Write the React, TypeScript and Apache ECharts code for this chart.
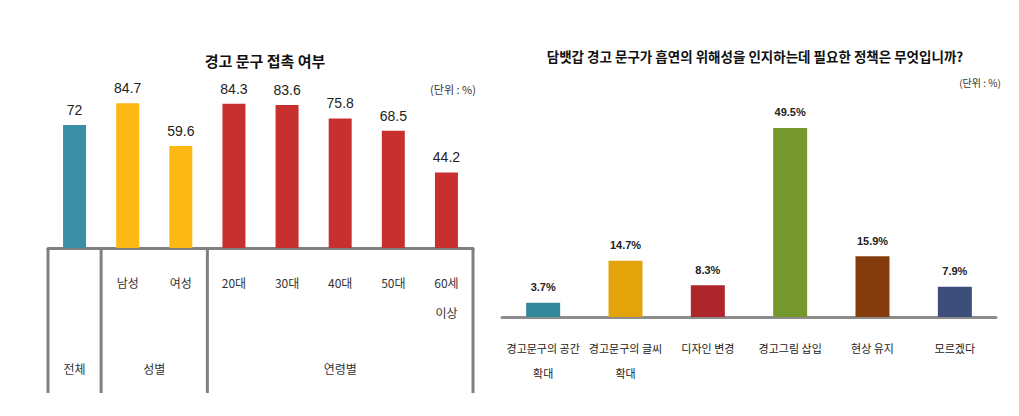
import React, { useEffect, useRef } from "react";
import * as echarts from "echarts";

const leftTitle = "경고 문구 접촉 여부";
const leftCategories = ["", "남성", "여성", "20대", "30대", "40대", "50대", "60세\n이상"];
const leftValues = [72, 84.7, 59.6, 84.3, 83.6, 75.8, 68.5, 44.2];
const leftColors = ["#3A8FA4", "#FDB913", "#FDB913", "#C8302F", "#C8302F", "#C8302F", "#C8302F", "#C8302F"];
const leftGroups = [
  { name: "전체", from: 0, to: 1 },
  { name: "성별", from: 1, to: 3 },
  { name: "연령별", from: 3, to: 8 },
];

const rightTitle = "담뱃갑 경고 문구가 흡연의 위해성을 인지하는데 필요한 정책은 무엇입니까?";
const rightCategories = ["경고문구의 공간\n확대", "경고문구의 글씨\n확대", "디자인 변경", "경고그림 삽입", "현상 유지", "모르겠다"];
const rightValues = [3.7, 14.7, 8.3, 49.5, 15.9, 7.9];
const rightColors = ["#33899A", "#E3A30B", "#AE262B", "#76972C", "#843C0C", "#3E4E7B"];

const unitLabel = "(단위 : %)";

const FONT = "'Noto Sans CJK KR', 'Liberation Sans', sans-serif";
const NUMFONT = "'Liberation Sans', 'Noto Sans CJK KR', sans-serif";

export default function App() {
  const ref = useRef<HTMLDivElement>(null);
  useEffect(() => {
    document.body.style.margin = "0";
    const chart = echarts.init(ref.current!, undefined, { renderer: "svg" });
    const L = { left: 48, width: 425, top: 77, height: 171 };
    const R = { left: 502, width: 494, top: 126, height: 191 };
    const lineColor = "#808080";
    const boundaries = [0, 1, 3, 8];
    const graphics: any[] = [];
    boundaries.forEach((b) => {
      const x = L.left + (L.width * b) / leftCategories.length;
      graphics.push({
        type: "line",
        shape: { x1: x, y1: L.top + L.height, x2: x, y2: 393 },
        style: { stroke: lineColor, lineWidth: 3 },
      });
    });
    leftGroups.forEach((g) => {
      const x = L.left + (L.width * (g.from + g.to)) / 2 / leftCategories.length;
      graphics.push({
        type: "text",
        x,
        y: 368,
        style: {
          text: g.name,
          fill: "#333",
          font: `12px ${FONT}`,
          textAlign: "center",
          textVerticalAlign: "middle",
        },
      });
    });
    graphics.push({
      type: "text",
      x: 453,
      y: 89,
      style: { text: unitLabel, fill: "#333", font: `11px ${FONT}`, textAlign: "center", textVerticalAlign: "middle" },
    });
    graphics.push({
      type: "text",
      x: 980,
      y: 82,
      style: { text: unitLabel, fill: "#333", font: `10px ${FONT}`, textAlign: "center", textVerticalAlign: "middle" },
    });

    chart.setOption({
      animation: false,
      title: [
        {
          text: leftTitle,
          left: 260,
          top: 48,
          textAlign: "center",
          textStyle: { fontFamily: FONT, fontSize: 15, fontWeight: "bold", color: "#111" },
        },
        {
          text: rightTitle,
          left: 750,
          top: 44,
          textAlign: "center",
          textStyle: { fontFamily: FONT, fontSize: 13.5, fontWeight: "bold", color: "#111" },
        },
      ],
      grid: [
        { left: L.left, width: L.width, top: L.top, height: L.height },
        { left: R.left, width: R.width, top: R.top, height: R.height },
      ],
      xAxis: [
        {
          type: "category",
          gridIndex: 0,
          data: leftCategories,
          axisLine: { lineStyle: { color: lineColor, width: 3 } },
          axisTick: { show: false },
          axisLabel: {
            interval: 0,
            margin: 19,
            color: "#333",
            fontFamily: FONT,
            fontSize: 12,
            lineHeight: 30,
          },
        },
        {
          type: "category",
          gridIndex: 1,
          data: rightCategories,
          axisLine: { lineStyle: { color: "#8c8c8c", width: 3 } },
          axisTick: { show: false },
          axisLabel: {
            interval: 0,
            margin: 18,
            color: "#222",
            fontFamily: FONT,
            fontSize: 11,
            lineHeight: 25,
          },
        },
      ],
      yAxis: [
        { type: "value", gridIndex: 0, min: 0, max: 100, show: false },
        { type: "value", gridIndex: 1, min: 0, max: 50, show: false },
      ],
      series: [
        {
          type: "bar",
          xAxisIndex: 0,
          yAxisIndex: 0,
          barWidth: 23,
          data: leftValues.map((v, i) => ({ value: v, itemStyle: { color: leftColors[i] } })),
          label: {
            show: true,
            position: "top",
            distance: 8,
            color: "#222",
            fontFamily: NUMFONT,
            fontSize: 14,
          },
        },
        {
          type: "bar",
          xAxisIndex: 1,
          yAxisIndex: 1,
          barWidth: 34,
          data: rightValues.map((v, i) => ({ value: v, itemStyle: { color: rightColors[i] } })),
          label: {
            show: true,
            position: "top",
            distance: 10,
            color: "#222",
            fontFamily: NUMFONT,
            fontWeight: "bold",
            fontSize: 11,
            formatter: (p: any) => `${p.value}%`,
          },
        },
      ],
      graphic: graphics,
    });
    return () => chart.dispose();
  }, []);
  return <div ref={ref} style={{ position: "absolute", left: 0, top: 0, width: 1019, height: 416 }} />;
}
